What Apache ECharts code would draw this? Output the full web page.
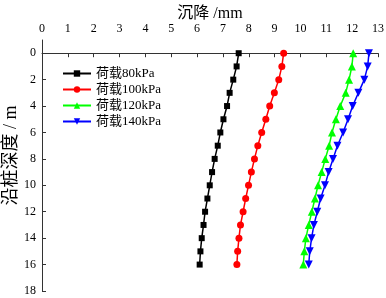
<!DOCTYPE html>
<html><head><meta charset="utf-8">
<script src="https://cdn.jsdelivr.net/npm/echarts@6/dist/echarts.min.js"></script>
<style>html,body{margin:0;padding:0;background:#fff}#c{width:386px;height:298px}</style>
</head><body><div id="c"></div>
<script>
const depths = [0,1,2,3,4,5,6,7,8,9,10,11,12,13,14,15,16];
const names = ['荷载80kPa','荷载100kPa','荷载120kPa','荷载140kPa'];
const s80  = [7.61,7.53,7.40,7.26,7.16,7.02,6.90,6.80,6.68,6.58,6.49,6.40,6.31,6.25,6.18,6.13,6.10];
const s100 = [9.35,9.28,9.16,8.99,8.81,8.66,8.50,8.35,8.22,8.10,7.99,7.88,7.78,7.68,7.62,7.57,7.54];
const s120 = [12.04,11.99,11.88,11.75,11.54,11.37,11.22,11.11,10.96,10.82,10.68,10.56,10.44,10.32,10.21,10.15,10.11];
const s140 = [12.65,12.60,12.47,12.24,12.02,11.84,11.65,11.43,11.26,11.09,10.95,10.78,10.65,10.52,10.43,10.36,10.32];
const xTicks = [0,1,2,3,4,5,6,7,8,9,10,11,12,13];
const yTicks = [0,2,4,6,8,10,12,14,16,18];

const serif = '"Liberation Serif","Noto Sans CJK SC",serif';
function mk(name, vals, color, symbol, rot){
  return {name, type:'line', data: vals.map((v,i)=>[v, depths[i]]),
    symbol, symbolSize: symbol==='rect'?6:(symbol==='circle'?7:8), symbolRotate: rot||0,
    lineStyle:{color, width:1.5}, itemStyle:{color}, animation:false};
}
const chart = echarts.init(document.getElementById('c'));
chart.setOption({
  animation:false,
  grid:{left:42, right:8, top:40, bottom:7, outerBoundsMode:'none', containLabel:false},
  legend:{orient:'vertical', left:62, top:67, padding:0, itemWidth:28, itemHeight:8, itemGap:3,
    textStyle:{fontFamily:serif, fontSize:13, color:'#000'},
    data: names},
  xAxis:{type:'value', position:'top', min:0, max:13, interval:1,
    name:'沉降 /mm', nameLocation:'middle', nameGap:18, nameMoveOverlap:false,
    nameTextStyle:{fontFamily:serif, fontSize:16, color:'#000'},
    axisLine:{lineStyle:{color:'#333', width:1}},
    axisTick:{show:true, inside:true, length:4, lineStyle:{color:'#333'}, customValues:xTicks},
    axisLabel:{fontFamily:serif, fontSize:12, color:'#000', margin:5, customValues:xTicks},
    splitLine:{show:false}},
  yAxis:{type:'value', inverse:true, min:-1, max:18,
    name:'沿桩深度 / m', nameLocation:'middle', nameGap:22, nameRotate:90, nameMoveOverlap:false,
    nameTextStyle:{fontFamily:serif, fontSize:18, color:'#000', padding:[0,0,0,20]},
    axisLine:{show:true, lineStyle:{color:'#333', width:1}},
    axisTick:{show:true, inside:true, length:4, lineStyle:{color:'#333'}, customValues:yTicks},
    axisLabel:{fontFamily:serif, fontSize:12, color:'#000', margin:6, customValues:yTicks},
    splitLine:{show:false}},
  series:[
    mk(names[0], s80, '#000000', 'rect'),
    mk(names[1], s100, '#ff0000', 'circle'),
    mk(names[2], s120, '#00ff00', 'triangle'),
    mk(names[3], s140, '#0000ff', 'triangle', 180)
  ]
});
</script></body></html>
